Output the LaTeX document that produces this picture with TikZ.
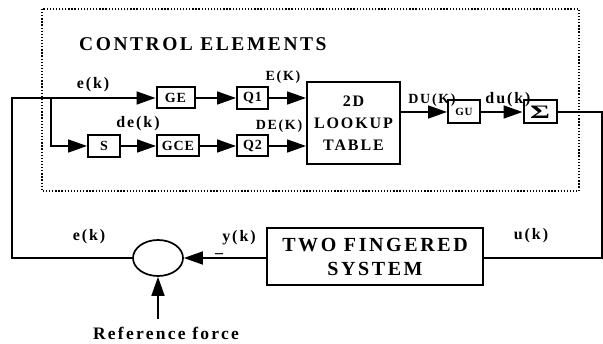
\documentclass[tikz,border=0pt]{standalone}
\usepackage{fontspec}
\setmainfont{Liberation Serif}
\newfontfamily\wideA{Liberation Serif}[LetterSpace=13]
\newfontfamily\wideB{Liberation Serif}[LetterSpace=12]
\newfontfamily\wideC{Liberation Serif}[LetterSpace=6]
\usetikzlibrary{arrows.meta,shapes.geometric}
\begin{document}
\begin{tikzpicture}[x=1pt,y=-1pt,
  blk/.style={draw,line width=2pt,inner sep=0pt,font=\wideC\bfseries\fontsize{14}{14}\selectfont},
  ar/.style={-{Triangle[length=19pt,width=13pt]},line width=1.7pt},
  ln/.style={line width=1.7pt},
  lbl/.style={font=\wideB\bfseries\fontsize{16}{16}\selectfont,inner sep=0pt},
  slbl/.style={font=\wideB\bfseries\fontsize{14}{14}\selectfont,inner sep=0pt},
  big/.style={font=\wideA\bfseries\fontsize{19.5}{19.5}\selectfont,inner sep=0pt,align=center}]
\useasboundingbox (0,0) rectangle (603,344);
% dotted frame
\draw[line width=1.5pt,dash pattern=on 1.3pt off 1.8pt] (42,9) rectangle (579,191);
\node[big,anchor=west] (title) at (79,44) {CONTROL ELEMENTS};
% blocks
\node[blk,minimum width=38pt,minimum height=21pt] (GE) at (175.5,98) {GE};
\node[blk,minimum width=31pt,minimum height=22pt] (Q1) at (252.5,98) {Q1};
\node[blk,minimum width=32pt,minimum height=22pt] (S) at (104,146) {S};
\node[blk,minimum width=42pt,minimum height=21pt] (GCE) at (178,146) {GCE};
\node[blk,minimum width=31pt,minimum height=21pt] (Q2) at (252.5,146) {Q2};
\node[blk,minimum width=93pt,minimum height=82pt,font=\wideB\bfseries\fontsize{16}{22}\selectfont,align=center] (T) at (353.5,123) {2D\\LOOKUP\\TABLE};
\node[blk,minimum width=32pt,minimum height=23pt,font=\wideC\bfseries\fontsize{11}{11}\selectfont] (GU) at (464,112) {GU};
\node[blk,minimum width=33pt,minimum height=23pt,font=\bfseries\fontsize{19}{19}\selectfont] (Sig) at (540,112) {\scalebox{1.6}[1]{Σ}};
\node[draw,line width=2pt,minimum width=216pt,minimum height=57pt,inner sep=0pt,font=\wideA\bfseries\fontsize{20}{24}\selectfont,align=center] (sys) at (375,256.5) {TWO FINGERED\\SYSTEM};
\node[draw,ellipse,line width=1.7pt,minimum width=50pt,minimum height=36pt,inner sep=0pt] (E) at (158,258) {};
% coordinates
\coordinate (L) at (12,258);
\coordinate (LT) at (12,98);
\coordinate (B) at (51,98);
\coordinate (R1) at (602,112);
\coordinate (R2) at (602,258);
\coordinate (RF) at (158,319);
% connectors
\draw[ln] (E.west) -- (L) -- (LT) -- (B);
\draw[ar] (B) -- (GE.west);
\draw[ar] (B) |- (S.west);
\draw[ar] (GE.east) -- (Q1.west);
\draw[ar] (Q1.east) -- (Q1.east -| T.west);
\draw[ar] (S.east) -- (GCE.west);
\draw[ar] (GCE.east) -- (Q2.west);
\draw[ar] (Q2.east) -- (Q2.east -| T.west);
\draw[ar] (T.east |- GU.west) -- (GU.west);
\draw[ar] (GU.east) -- (Sig.west);
\draw[ln] (Sig.east) -- (R1) -- (R2) -- (R2 -| sys.east);
\draw[ar] (sys.west |- E.east) -- (E.east);
\draw[ar] (RF) -- (E.south);
% labels
\node[lbl] (ek1) at (93,85) {e(k)};
\node[slbl] (EK) at (283,77) {E(K)};
\node[lbl] (dek) at (138,124) {de(k)};
\node[slbl] (DEK) at (279,126) {DE(K)};
\node[slbl] (DUK) at (432,100) {DU(K)};
\node[lbl] (duk) at (508,100) {du(k)};
\node[lbl] (ek2) at (89,237) {e(k)};
\node[lbl] (yk) at (239,238) {y(k)};
\node[lbl] (minus) at (219,254) {\_};
\node[lbl] (uk) at (531,236) {u(k)};
\node[lbl,font=\wideA\bfseries\fontsize{17.5}{17.5}\selectfont] (ref) at (166,333) {Reference force};
\end{tikzpicture}
\end{document}
